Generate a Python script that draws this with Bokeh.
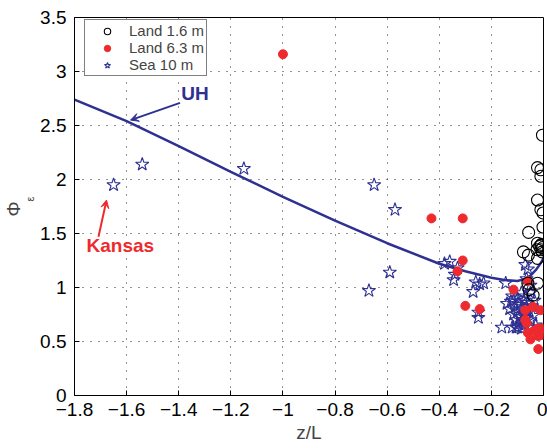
from bokeh.plotting import figure
from bokeh.models import Label, Arrow, VeeHead, FixedTicker, Legend, LegendItem, Title
from bokeh.embed import file_html
from bokeh.resources import INLINE

# ---------------- data ----------------
land16_x = [-0.004, -0.023, -0.01, -0.01, -0.023, -0.01, -0.002, -0.002, -0.057, -0.023,
            -0.01, -0.003, -0.01, -0.015, -0.077, -0.058, -0.025, -0.023, -0.06, -0.023,
            -0.055, -0.04, -0.005, -0.008]
land16_y = [2.41, 2.11, 2.09, 2.03, 1.81, 1.72, 1.69, 1.56, 1.51, 1.41,
            1.39, 1.37, 1.35, 1.38, 1.33, 1.30, 1.35, 1.27, 1.04, 1.04,
            0.98, 0.93, 1.33, 1.40]

land63_x = [-1.0, -0.43, -0.31, -0.31, -0.33, -0.30, -0.245, -0.115, -0.06, -0.07,
            -0.07, -0.065, -0.04, -0.012, -0.023, -0.012, -0.004, -0.06, -0.05, -0.02,
            -0.02, -0.003, -0.008, -0.035]
land63_y = [3.16, 1.64, 1.64, 1.25, 1.15, 0.83, 0.80, 0.98, 1.06, 0.79,
            0.70, 0.67, 0.82, 0.79, 0.62, 0.62, 0.59, 0.58, 0.52, 0.55,
            0.43, 0.62, 0.56, 0.60]

sea_x = [-1.65, -1.54, -1.15, -0.65, -0.57, -0.59, -0.67, -0.36, -0.38, -0.33,
         -0.345, -0.34, -0.27, -0.26, -0.245, -0.23, -0.25, -0.25, -0.16, -0.145,
         -0.115, -0.125, -0.105,
         -0.14, -0.13, -0.12, -0.115, -0.11, -0.105, -0.10, -0.10, -0.095, -0.09,
         -0.09, -0.085, -0.085, -0.08, -0.08, -0.075, -0.075, -0.07, -0.07, -0.065,
         -0.065, -0.06, -0.06, -0.055, -0.05, -0.05, -0.045, -0.04, -0.035, -0.03,
         -0.07, -0.06, -0.065, -0.05, -0.12, -0.10]
sea_y = [1.95, 2.14, 2.10, 1.95, 1.72, 1.14, 0.97, 1.24, 1.22, 1.18,
         1.07, 1.12, 0.96, 1.05, 1.03, 1.04, 0.77, 0.72, 0.63, 1.04,
         0.88, 0.87, 0.63,
         0.85, 0.80, 0.92, 0.75, 0.82, 0.70, 0.90, 0.78, 0.66, 0.84,
         0.73, 0.95, 0.62, 0.80, 0.70, 0.88, 0.76, 0.66, 0.92, 0.82,
         0.72, 0.86, 0.63, 0.78, 0.70, 0.95, 0.83, 0.74, 0.88, 0.65,
         1.21, 1.17, 1.08, 1.02, 0.63, 0.63]

uh_x = [-1.8, -1.6, -1.4, -1.2, -1.0, -0.8, -0.6, -0.4, -0.3, -0.2, -0.15, -0.1,
        -0.07, -0.05, -0.03, -0.015, 0.0]
uh_y = [2.74, 2.54, 2.31, 2.07, 1.84, 1.62, 1.41, 1.22, 1.15, 1.09, 1.07, 1.06,
        1.08, 1.11, 1.16, 1.21, 1.27]

x_ticks = [-1.8, -1.6, -1.4, -1.2, -1.0, -0.8, -0.6, -0.4, -0.2, 0.0]
x_tick_labels = ["\u22121.8", "\u22121.6", "\u22121.4", "\u22121.2", "\u22121",
                 "\u22120.8", "\u22120.6", "\u22120.4", "\u22120.2", "0"]
y_ticks = [0.0, 0.5, 1.0, 1.5, 2.0, 2.5, 3.0, 3.5]
y_tick_labels = ["0", "0.5", "1", "1.5", "2", "2.5", "3", "3.5"]

BLUE = "#2e3192"
RED = "#ee2a2e"
FONT = "Liberation Sans"

p = figure(width=547, height=448, x_range=(-1.8, 0), y_range=(0, 3.5),
           output_backend="svg", toolbar_location=None,
           min_border_left=73, min_border_right=4, min_border_top=17, min_border_bottom=53)
p.background_fill_color = "white"
p.outline_line_color = "black"
p.outline_line_width = 1

for ax in (p.xaxis[0], p.yaxis[0]):
    ax.major_tick_in = 5
    ax.major_tick_out = 0
    ax.minor_tick_in = 0
    ax.minor_tick_out = 0
    ax.axis_line_color = "black"
    ax.major_label_text_font = FONT
    ax.major_label_text_font_size = "19px"
    ax.major_label_text_color = "black"
p.xaxis[0].ticker = FixedTicker(ticks=x_ticks)
p.xaxis[0].major_label_overrides = {t: l for t, l in zip(x_ticks, x_tick_labels)}
p.yaxis[0].ticker = FixedTicker(ticks=y_ticks)
p.yaxis[0].major_label_overrides = {t: l for t, l in zip(y_ticks, y_tick_labels)}
p.xaxis[0].major_label_standoff = 7
p.yaxis[0].major_label_standoff = 8

p.xaxis[0].axis_label = "z/L"
p.xaxis[0].axis_label_text_font = FONT
p.xaxis[0].axis_label_text_font_size = "19px"
p.xaxis[0].axis_label_text_font_style = "normal"
p.xaxis[0].axis_label_standoff = 3

p.xgrid.ticker = FixedTicker(ticks=x_ticks)
p.ygrid.ticker = FixedTicker(ticks=y_ticks)
for g in (p.xgrid[0], p.ygrid[0]):
    g.grid_line_color = "black"
    g.grid_line_dash = "1 7"
    g.grid_line_width = 1
    g.grid_line_alpha = 0.85

line = p.line(uh_x, uh_y, line_color=BLUE, line_width=2.5)
r_sea = p.scatter(sea_x, sea_y, marker="star", size=14, fill_color=None,
                  line_color=BLUE, line_width=1.1)
r_63 = p.scatter(land63_x, land63_y, marker="circle", size=9, fill_color=RED,
                 line_color=RED)
r_16 = p.scatter(land16_x, land16_y, marker="circle", size=12, fill_color=None,
                 line_color="black", line_width=1.1)

legend = Legend(items=[LegendItem(label="Land 1.6 m", renderers=[r_16]),
                       LegendItem(label="Land 6.3 m", renderers=[r_63]),
                       LegendItem(label="Sea 10 m", renderers=[r_sea])],
                location=(10, 319))
legend.margin = 0
legend.padding = 2
legend.spacing = 0
legend.label_text_font = FONT
legend.label_text_font_size = "15px"
legend.label_height = 16
legend.glyph_height = 16
legend.glyph_width = 40
legend.label_standoff = 2
legend.border_line_color = "black"
legend.border_line_width = 1
p.add_layout(legend)

# annotations
p.add_layout(Label(x=-1.39, y=2.8, text="UH", text_color=BLUE, text_font=FONT,
                   text_font_style="bold", text_font_size="19px", text_baseline="middle"))
p.add_layout(Arrow(x_start=-1.395, y_start=2.71, x_end=-1.585, y_end=2.55,
                   line_color=BLUE, line_width=2,
                   end=VeeHead(size=8, fill_color=BLUE, line_color=BLUE)))
p.add_layout(Label(x=-1.754, y=1.39, text="Kansas", text_color=RED, text_font=FONT,
                   text_font_style="bold", text_font_size="19px", text_baseline="middle"))
p.add_layout(Arrow(x_start=-1.708, y_start=1.47, x_end=-1.677, y_end=1.81,
                   line_color=RED, line_width=2,
                   end=VeeHead(size=8, fill_color=RED, line_color=RED)))

# y axis title: Phi with subscript epsilon, as two vertical titles in the left panel
eps_title = Title(text="\u03b5", align="left", offset=194, standoff=0, vertical_align="top",
                  text_font=FONT, text_font_size="11px", text_font_style="normal",
                  text_line_height=0.8)
phi_title = Title(text="\u03a6", align="left", offset=179, standoff=0, vertical_align="bottom",
                  text_font=FONT, text_font_size="19px", text_font_style="normal",
                  text_line_height=0.8)
p.add_layout(eps_title, "left")
p.add_layout(phi_title, "left")

open("out.html", "w").write(file_html(p, INLINE))
